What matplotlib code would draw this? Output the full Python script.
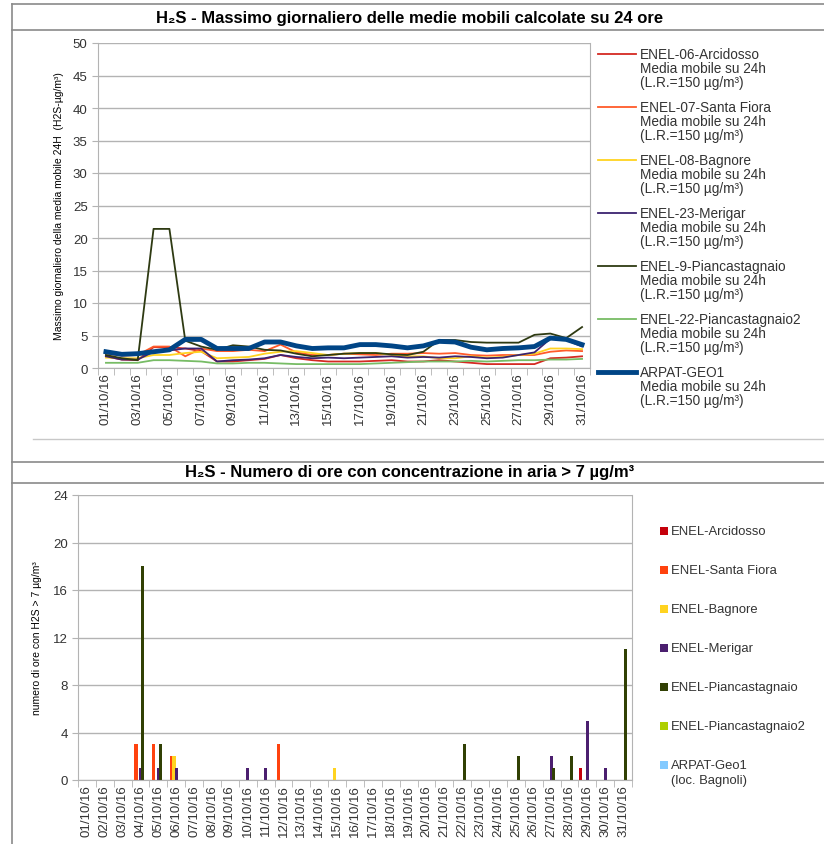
import matplotlib
matplotlib.use("Agg")
import matplotlib.pyplot as plt
import numpy as np
from matplotlib.lines import Line2D
from matplotlib.patches import Rectangle

plt.rcParams['font.family'] = ['Liberation Sans', 'DejaVu Sans']

# ---- data -------------------------------------------------------------
days = [f"{d:02d}/10/16" for d in range(1, 32)]

# daily maximum of 24h moving average (µg/m³)
arcidosso = [1.8, 1.3, 1.2, 3.2, 3.2, 3.0, 2.6, 1.0, 1.0, 1.2, 1.4, 2.0, 1.5, 1.2, 1.0, 1.0,
             1.0, 1.1, 1.2, 1.0, 1.0, 1.2, 1.0, 0.8, 0.6, 0.6, 0.6, 0.6, 1.5, 1.6, 1.8]
santa_fiora = [2.2, 1.9, 2.0, 3.3, 3.3, 1.8, 3.0, 2.6, 2.6, 2.8, 2.6, 3.6, 2.4, 2.0, 2.0, 2.2,
               2.1, 2.0, 2.2, 2.2, 2.3, 2.2, 2.3, 2.0, 1.9, 2.0, 2.0, 2.0, 2.5, 2.7, 2.6]
bagnore = [1.6, 1.5, 1.5, 2.0, 2.0, 2.3, 2.5, 1.5, 1.6, 1.7, 2.2, 2.5, 2.6, 2.3, 2.0, 2.2,
           2.3, 2.3, 2.0, 1.8, 1.8, 1.5, 1.5, 1.8, 1.6, 1.7, 2.0, 2.2, 3.0, 3.0, 2.9]
merigar = [1.8, 1.3, 1.3, 2.5, 2.7, 3.0, 3.0, 1.0, 1.2, 1.3, 1.5, 2.0, 1.7, 1.5, 1.6, 1.5,
           1.6, 1.7, 1.8, 1.6, 1.7, 1.6, 1.8, 1.7, 1.5, 1.6, 2.0, 2.4, 4.5, 4.3, 3.3]
piancastagnaio = [2.0, 1.5, 1.2, 21.4, 21.4, 4.2, 3.3, 2.8, 3.5, 3.3, 2.8, 2.7, 2.2, 1.8, 2.0, 2.2,
                  2.3, 2.3, 2.1, 2.0, 2.5, 4.3, 4.3, 4.0, 3.9, 3.9, 3.9, 5.1, 5.3, 4.6, 6.3]
piancastagnaio2 = [0.8, 0.8, 0.8, 1.2, 1.2, 1.1, 1.0, 0.7, 0.7, 0.8, 0.8, 0.7, 0.6, 0.6, 0.6, 0.6,
                   0.6, 0.7, 0.8, 0.9, 1.0, 1.0, 1.0, 1.1, 1.0, 1.1, 1.2, 1.2, 1.3, 1.3, 1.4]
geo1 = [2.5, 2.1, 2.2, 2.5, 2.8, 4.4, 4.4, 3.0, 3.0, 3.0, 4.0, 4.0, 3.4, 3.0, 3.1, 3.1,
        3.6, 3.6, 3.4, 3.1, 3.4, 4.1, 4.0, 3.2, 2.8, 3.0, 3.1, 3.3, 4.6, 4.4, 3.6]

# hours above 7 µg/m³
h_arcidosso = [0]*28 + [1, 0, 0]
h_santa_fiora = [0, 0, 0, 3, 3, 2, 0, 0, 0, 0, 0, 3] + [0]*19
h_bagnore = [0, 0, 0, 0, 0, 2, 0, 0, 0, 0, 0, 0, 0, 0, 1] + [0]*16
h_merigar = [0, 0, 0, 1, 1, 1, 0, 0, 0, 1, 1] + [0]*15 + [2, 0, 5, 1, 0]
h_piancastagnaio = [0, 0, 0, 18, 3] + [0]*16 + [3, 0, 0, 2, 0, 1, 2, 0, 0, 11]
h_piancastagnaio2 = [0]*31
h_geo1 = [0]*31

line_names = ["ENEL-06-Arcidosso", "ENEL-07-Santa Fiora", "ENEL-08-Bagnore",
              "ENEL-23-Merigar", "ENEL-9-Piancastagnaio", "ENEL-22-Piancastagnaio2",
              "ARPAT-GEO1"]
bar_names = ["ENEL-Arcidosso", "ENEL-Santa Fiora", "ENEL-Bagnore", "ENEL-Merigar",
             "ENEL-Piancastagnaio", "ENEL-Piancastagnaio2", "ARPAT-Geo1\n(loc. Bagnoli)"]

line_colors = ["#d42a22", "#ff5a2a", "#ffd320", "#3b2370", "#2e3a12", "#77bc65", "#004586"]
bar_colors = ["#c5000b", "#ff420e", "#ffd320", "#4b1f6f", "#314004", "#aecf00", "#83caff"]

W, H = 824, 845
fig = plt.figure(figsize=(W/100, H/100), dpi=100)

def fx(px):
    return px / W

def fy(py):
    return 1 - py / H

text_c = "#333333"

# ---- frame lines ----------------------------------------------------
frame = "#8a8a8a"
for (x0, y0, x1, y1, c, lw) in [
    (12, 5, 824, 5, frame, 1.2),
    (12, 31, 824, 31, frame, 1.2),
    (12, 5, 12, 845, frame, 1.2),
    (33, 440, 824, 440, "#c8c8c8", 1.0),
    (12, 463, 824, 463, frame, 1.2),
    (12, 484, 824, 484, frame, 1.2),
]:
    fig.add_artist(Line2D([fx(x0), fx(x1)], [fy(y0), fy(y1)], color=c, lw=lw))

fig.text(fx(410), fy(18), "H\u2082S - Massimo giornaliero delle medie mobili calcolate su 24 ore",
         ha="center", va="center", fontsize=12, fontweight="bold")
fig.text(fx(410), fy(473), "H\u2082S - Numero di ore con concentrazione in aria > 7 \u00b5g/m\u00b3",
         ha="center", va="center", fontsize=12, fontweight="bold")

x = np.arange(1, 32)
grid_c = "#b3b3b3"

# ---- top chart: lines -------------------------------------------------
ax1 = fig.add_axes([fx(98), fy(369), fx(590 - 98), fy(44) - fy(369)])
series = [arcidosso, santa_fiora, bagnore, merigar, piancastagnaio, piancastagnaio2, geo1]
line_widths = [1.3, 1.3, 1.3, 1.3, 1.3, 1.3, 3.5]
for vals, col, lw in zip(series, line_colors, line_widths):
    ax1.plot(x, vals, color=col, lw=lw)
ax1.set_xlim(0.5, 31.5)
ax1.set_ylim(0, 50)
ax1.set_yticks(range(0, 51, 5))
ax1.yaxis.grid(True, color=grid_c, lw=1)
ax1.set_axisbelow(True)
ax1.set_xticks(x[::2])
ax1.set_xticklabels(days[::2], rotation=90, fontsize=9.5)
ax1.set_xticks(np.arange(0.5, 32, 1), minor=True)
ax1.tick_params(axis="x", which="major", length=0, pad=3, colors=text_c)
ax1.tick_params(axis="x", which="minor", length=5, color=grid_c)
ax1.tick_params(axis="y", length=4, color=grid_c, labelsize=9.5, labelcolor=text_c)
for s in ax1.spines.values():
    s.set_color(grid_c)
ax1.spines["top"].set_visible(False)
ax1.set_ylabel("Massimo giornaliero della media mobile 24H  (H2S-\u00b5g/m\u00b3)",
               fontsize=7.5, labelpad=6)

# legend: handle aligned with the first line of each three-line label
for i, (name, col, lw) in enumerate(zip(line_names, line_colors, line_widths)):
    y0 = 55 + 53 * i
    fig.add_artist(Line2D([fx(598), fx(636)], [fy(y0), fy(y0)], color=col, lw=lw))
    for j, txt in enumerate([name, "Media mobile su 24h", "(L.R.=150 \u00b5g/m\u00b3)"]):
        fig.text(fx(640), fy(y0 + 14 * j), txt, ha="left", va="center",
                 fontsize=9.8, color=text_c)

# ---- bottom chart: bars ----------------------------------------------
ax2 = fig.add_axes([fx(78), fy(781), fx(632 - 78), fy(496) - fy(781)])
bars = [h_arcidosso, h_santa_fiora, h_bagnore, h_merigar, h_piancastagnaio,
        h_piancastagnaio2, h_geo1]
n = len(bars)
bw = 0.9 / n
for i, (vals, col) in enumerate(zip(bars, bar_colors)):
    ax2.bar(x + (i - (n - 1) / 2) * bw, vals, width=bw * 1.35, color=col, linewidth=0)
ax2.set_xlim(0.5, 31.5)
ax2.set_ylim(0, 24)
ax2.set_yticks(range(0, 25, 4))
ax2.yaxis.grid(True, color=grid_c, lw=1)
ax2.set_axisbelow(True)
ax2.set_xticks(x)
ax2.set_xticklabels(days, rotation=90, fontsize=9.5)
ax2.set_xticks(np.arange(0.5, 32, 1), minor=True)
ax2.tick_params(axis="x", which="major", length=0, pad=3, colors=text_c)
ax2.tick_params(axis="x", which="minor", length=5, color=grid_c)
ax2.tick_params(axis="y", length=4, color=grid_c, labelsize=9.5, labelcolor=text_c)
for s in ax2.spines.values():
    s.set_color(grid_c)
ax2.spines["top"].set_visible(False)
ax2.set_ylabel("numero di ore con H2S > 7 \u00b5g/m\u00b3", fontsize=7.5, labelpad=8)

# legend: square markers, aligned with the first line of each label
for i, (name, col) in enumerate(zip(bar_names, bar_colors)):
    yc = 532 + 39 * i
    fig.add_artist(Rectangle((fx(660), fy(yc + 4)), fx(8), fy(yc - 4) - fy(yc + 4),
                             facecolor=col, edgecolor="none", transform=fig.transFigure))
    for j, txt in enumerate(name.split("\n")):
        fig.text(fx(671), fy(yc + 15 * j), txt, ha="left", va="center",
                 fontsize=9.4, color=text_c)

fig.savefig("out.png", dpi=100)
